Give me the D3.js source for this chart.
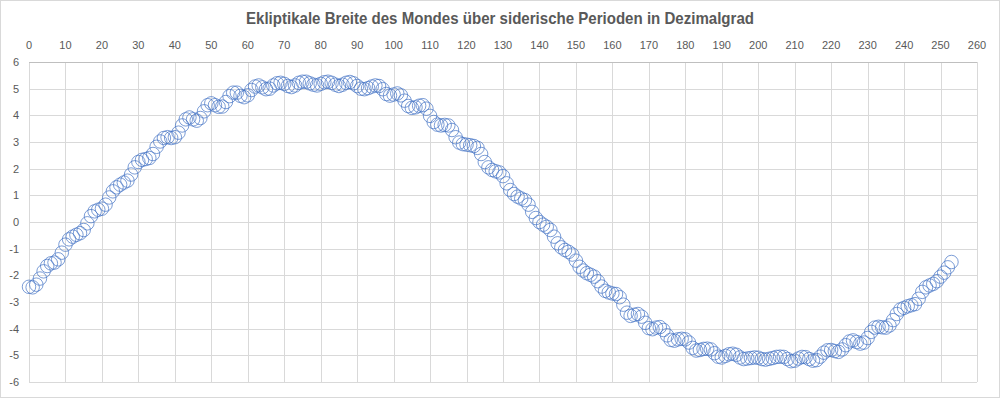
<!DOCTYPE html>
<html lang="de">
<head>
    <meta charset="UTF-8">
    <title>ekliptikale-breite</title>
    <script src="https://cdn.jsdelivr.net/npm/d3@7"></script>
    <style>
        html, body {
            margin: 0;
            padding: 0;
            background: #fff;
        }
        svg {
            display: block;
        }
        .grid line {
            stroke: #d9d9d9;
            stroke-width: 1;
        }
        .tick-label {
            font-family: "Liberation Sans", Arial, sans-serif;
            font-size: 11px;
            fill: #595959;
        }
    </style>
</head>
<body>
<svg class="chart"></svg>
<script>
    // svg size
    var width = 1000;
    var height = 398;

    var title = 'Ekliptikale Breite des Mondes über siderische Perioden in Dezimalgrad';

    // tick values
    var xTicks = [0, 10, 20, 30, 40, 50, 60, 70, 80, 90, 100, 110, 120, 130, 140, 150, 160, 170, 180, 190, 200, 210, 220, 230, 240, 250, 260];
    var yTicks = [-6, -5, -4, -3, -2, -1, 0, 1, 2, 3, 4, 5, 6];

    // Breite je Periode 0..253
    var breite = [
        -2.43, -2.45, -2.35, -2.12, -1.85, -1.65, -1.55, -1.52, -1.40, -1.15,
        -0.85, -0.65, -0.55, -0.48, -0.42, -0.30, -0.05, 0.22, 0.40, 0.46,
        0.50, 0.65, 0.92, 1.15, 1.30, 1.40, 1.48, 1.55, 1.78, 2.05,
        2.25, 2.33, 2.36, 2.40, 2.55, 2.82, 3.02, 3.15, 3.18, 3.15,
        3.18, 3.35, 3.62, 3.85, 3.92, 3.85, 3.80, 3.90, 4.15, 4.38,
        4.45, 4.38, 4.32, 4.33, 4.50, 4.72, 4.85, 4.85, 4.73, 4.68,
        4.75, 4.95, 5.08, 5.12, 5.05, 4.98, 5.00, 5.12, 5.20, 5.22,
        5.18, 5.10, 5.06, 5.12, 5.22, 5.26, 5.26, 5.20, 5.15, 5.12,
        5.18, 5.24, 5.26, 5.22, 5.15, 5.10, 5.15, 5.22, 5.25, 5.20,
        5.10, 5.00, 4.98, 5.02, 5.08, 5.12, 5.10, 4.98, 4.80, 4.74,
        4.78, 4.82, 4.75, 4.55, 4.35, 4.28, 4.30, 4.36, 4.38, 4.25,
        3.98, 3.75, 3.65, 3.62, 3.64, 3.62, 3.45, 3.18, 2.98, 2.92,
        2.90, 2.88, 2.85, 2.78, 2.55, 2.25, 2.05, 1.95, 1.90, 1.86,
        1.72, 1.45, 1.20, 1.05, 0.95, 0.88, 0.82, 0.65, 0.38, 0.15,
        0.00, -0.10, -0.18, -0.30, -0.55, -0.80, -0.95, -1.05, -1.12, -1.22,
        -1.45, -1.68, -1.82, -1.92, -1.98, -2.05, -2.22, -2.42, -2.58, -2.64,
        -2.68, -2.70, -2.82, -3.10, -3.40, -3.52, -3.48, -3.45, -3.55, -3.78,
        -3.98, -4.02, -3.96, -3.94, -4.05, -4.25, -4.42, -4.45, -4.40, -4.38,
        -4.40, -4.52, -4.72, -4.82, -4.80, -4.76, -4.75, -4.78, -4.92, -5.05,
        -5.08, -5.02, -4.96, -4.94, -4.98, -5.08, -5.14, -5.12, -5.10, -5.08,
        -5.09, -5.14, -5.16, -5.13, -5.10, -5.06, -5.05, -5.06, -5.14, -5.22,
        -5.20, -5.12, -5.06, -5.07, -5.14, -5.20, -5.18, -5.05, -4.90, -4.81,
        -4.80, -4.84, -4.87, -4.78, -4.62, -4.48, -4.44, -4.50, -4.56, -4.52,
        -4.35, -4.12, -3.96, -3.93, -3.95, -3.96, -3.88, -3.68, -3.45, -3.28,
        -3.22, -3.16, -3.12, -3.08, -2.88, -2.62, -2.45, -2.38, -2.32, -2.22,
        -2.05, -1.90, -1.70, -1.50
    ];

    var points = breite.map(function (v, i) {
        return {periode: i, wert: v};
    });

    // plot area
    var margin = {top: 62, right: 23, bottom: 16, left: 29};

    var svg = d3.select('.chart')
        .attr('width', width)
        .attr('height', height);

    // outer chart border
    svg.append('rect')
        .attr('x', 0.5)
        .attr('y', 0.5)
        .attr('width', width - 1)
        .attr('height', height - 1)
        .attr('fill', '#fff')
        .attr('stroke', '#d9d9d9');

    var x = d3.scaleLinear()
        .domain([0, 260])
        .range([margin.left, width - margin.right]);

    var y = d3.scaleLinear()
        .domain([-6, 6])
        .range([height - margin.bottom, margin.top]);

    // gridlines
    var grid = svg.append('g').attr('class', 'grid');

    grid.selectAll('line.v')
        .data(xTicks)
        .enter()
        .append('line')
        .attr('class', 'v')
        .attr('x1', function (d) { return Math.round(x(d)) + 0.5; })
        .attr('x2', function (d) { return Math.round(x(d)) + 0.5; })
        .attr('y1', y(6))
        .attr('y2', y(-6));

    grid.selectAll('line.h')
        .data(yTicks)
        .enter()
        .append('line')
        .attr('class', 'h')
        .attr('x1', x(0))
        .attr('x2', x(260))
        .attr('y1', function (d) { return Math.round(y(d)) + 0.5; })
        .attr('y2', function (d) { return Math.round(y(d)) + 0.5; });

    // top axis line
    svg.append('line')
        .attr('x1', x(0))
        .attr('x2', x(260))
        .attr('y1', Math.round(y(6)) + 0.5)
        .attr('y2', Math.round(y(6)) + 0.5)
        .attr('stroke', '#bfbfbf');

    // x tick labels (top)
    svg.append('g')
        .selectAll('text')
        .data(xTicks)
        .enter()
        .append('text')
        .attr('class', 'tick-label')
        .attr('x', function (d) { return x(d); })
        .attr('y', 49)
        .attr('text-anchor', 'middle')
        .text(function (d) { return d; });

    // y tick labels
    svg.append('g')
        .selectAll('text')
        .data(yTicks)
        .enter()
        .append('text')
        .attr('class', 'tick-label')
        .attr('x', 19)
        .attr('y', function (d) { return y(d); })
        .attr('dy', '0.35em')
        .attr('text-anchor', 'end')
        .text(function (d) { return d; });

    // markers
    svg.append('g')
        .selectAll('circle')
        .data(points)
        .enter()
        .append('circle')
        .attr('cx', function (d) { return x(d.periode); })
        .attr('cy', function (d) { return y(d.wert); })
        .attr('r', 6.75)
        .attr('fill', 'none')
        .attr('stroke', '#4472c4')
        .attr('stroke-width', 0.7);

    // title
    svg.append('text')
        .attr('x', width / 2)
        .attr('y', 24)
        .attr('text-anchor', 'middle')
        .attr('textLength', 508)
        .attr('lengthAdjust', 'spacingAndGlyphs')
        .style('font-family', '"Liberation Sans", Arial, sans-serif')
        .style('font-size', '17px')
        .style('font-weight', 'bold')
        .style('fill', '#595959')
        .text(title);
</script>
</body>
</html>
